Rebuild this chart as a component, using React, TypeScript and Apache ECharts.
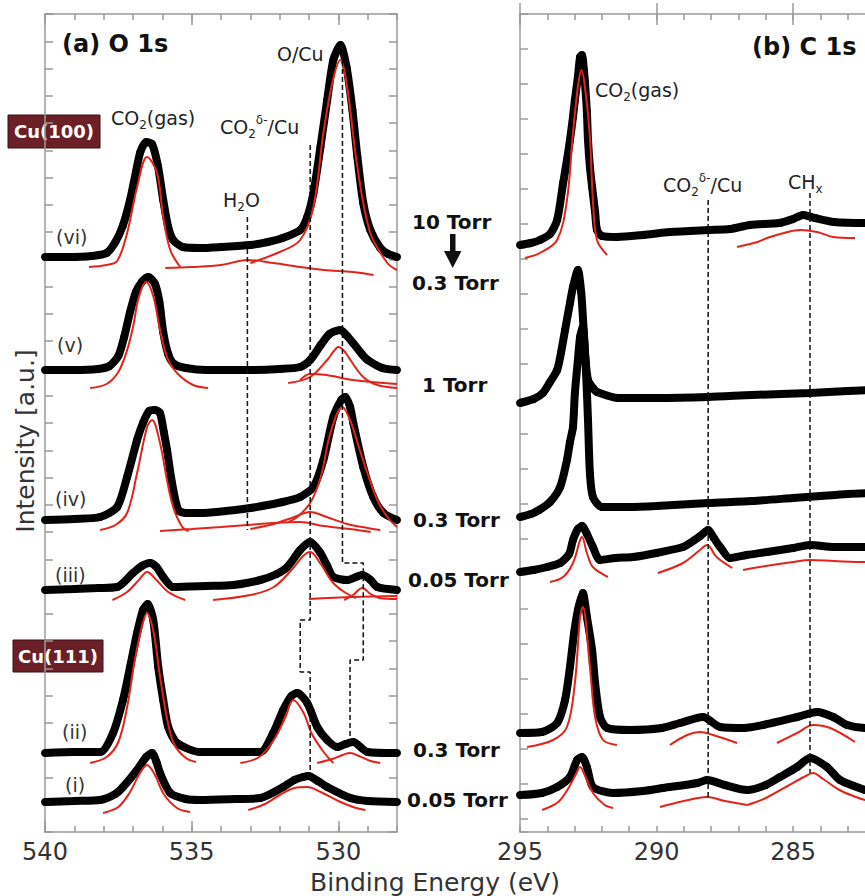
import React, { useEffect, useRef } from 'react';
import * as echarts from 'echarts';

type P = [number, number][];

// ---------- Panel (a) O 1s : x = binding energy (eV), y = offset intensity (a.u.) ----------
const o1sVi: P = [[540.0,575],[539.2,575],[538.4,576],[537.9,579],[537.6,590],[537.35,606],[537.1,632],[536.9,660],[536.75,680],[536.55,690],[536.35,688],[536.15,666],[535.97,632],[535.8,605],[535.63,592],[535.3,585],[534.7,584],[534.0,585],[533.0,587],[532.4,590],[531.9,594],[531.3,602],[531.06,615],[530.85,639],[530.61,685],[530.38,732],[530.17,772],[529.93,787],[529.72,765],[529.52,722],[529.35,675],[529.15,629],[528.91,602],[528.57,584],[528.3,578],[528.0,575]];
const o1sViFitCO2: P = [[538.5,565],[537.9,567],[537.54,571],[537.2,599],[536.86,645],[536.52,675],[536.18,659],[535.97,615],[535.73,582],[535.39,565]];
const o1sViFitH2O: P = [[535.9,564],[535.0,565],[534.0,567],[533.1,572],[532.2,569],[531.3,565],[530.5,562],[529.5,560],[528.8,557]];
const o1sViFitOCu: P = [[533.0,569],[532.0,580],[531.3,592],[530.85,625],[530.51,699],[530.2,750],[529.93,772],[529.7,745],[529.35,665],[528.91,599],[528.33,569],[528.0,562]];

const o1sV: P = [[540.0,462],[539.0,462],[538.2,463],[537.8,466],[537.5,476],[537.3,495],[537.1,520],[536.9,540],[536.7,550],[536.48,555],[536.25,548],[536.1,530],[535.97,500],[535.8,478],[535.6,468],[535.2,464],[534.5,462],[533.0,462],[532.0,463],[531.3,465],[530.96,472],[530.6,487],[530.3,498],[529.93,502],[529.7,496],[529.5,489],[529.2,478],[529.0,472],[528.5,464],[528.0,462]];
const o1sVFitCO2: P = [[538.46,444],[537.9,448],[537.5,460],[537.2,482],[537.0,505],[536.8,535],[536.55,550],[536.3,535],[536.1,505],[535.84,475],[535.5,459],[534.95,447],[534.44,444]];
const o1sVFitOCu: P = [[531.71,449],[530.96,455],[530.38,472],[530.15,481],[530.0,485],[529.8,481],[529.59,472],[529.15,455],[528.67,447],[528.0,444]];
const o1sVFitCO2d: P = [[531.3,452],[530.96,458],[530.4,457],[529.5,452],[528.0,448]];

const o1sIv: P = [[540.0,312],[539.0,313],[538.12,315],[537.54,325],[537.2,355],[536.86,392],[536.66,409],[536.45,421],[536.25,422],[536.08,419],[535.95,400],[535.84,382],[535.67,349],[535.46,322],[535.2,319],[534.71,319],[533.0,324],[531.9,330],[531.3,335],[530.85,345],[530.51,372],[530.17,415],[529.9,432],[529.76,435],[529.6,425],[529.49,409],[529.15,365],[528.81,335],[528.46,319],[528.0,312]];
const o1sIvFitCO2: P = [[538.12,302],[537.6,307],[537.2,319],[536.86,359],[536.52,405],[536.35,412],[536.08,389],[535.84,352],[535.63,325],[535.32,305],[535.1,301]];
const o1sIvFitH2O: P = [[536.08,301],[535.0,303],[534.0,305],[533.1,307],[532.2,309],[531.3,310],[530.5,306],[529.6,303],[528.9,300]];
const o1sIvFitCO2d: P = [[533.0,303],[532.2,308],[531.5,315],[530.96,320],[530.4,315],[529.7,308],[529.0,304],[528.57,302]];
const o1sIvFitOCu: P = [[531.7,310],[531.4,315],[530.96,329],[530.6,355],[530.27,399],[529.86,425],[529.6,412],[529.3,385],[529.01,359],[528.67,332],[528.33,315],[528.0,305]];

const o1sIii: P = [[540.0,242],[539.0,243],[538.2,244],[537.54,245],[537.0,259],[536.7,266],[536.42,269],[536.2,265],[535.97,255],[535.63,245],[534.5,246],[533.58,247],[532.66,252],[532.1,258],[531.74,265],[531.3,282],[530.96,290],[530.61,279],[530.38,266],[530.17,255],[529.69,252],[529.18,257],[528.9,252],[528.67,245],[528.0,242]];
const o1sIiiFitCO2: P = [[537.7,232],[537.2,240],[536.8,252],[536.52,260],[536.2,252],[535.8,240],[535.22,232]];
const o1sIiiFitCO2d: P = [[534.27,232],[533.0,237],[532.2,245],[531.6,262],[531.2,276],[530.96,280],[530.6,268],[530.2,250],[529.8,240],[529.4,234]];
const o1sIiiFitOCu: P = [[529.8,232],[529.5,237],[529.18,244],[528.9,238],[528.6,234],[528.0,233]];
const o1sIiiFitBase: P = [[531.0,233],[529.5,235],[528.0,236]];

const o1sIi: P = [[540.0,79],[539.0,80],[538.12,80],[537.68,99],[537.34,132],[537.1,165],[536.86,199],[536.66,222],[536.5,228],[536.31,212],[536.14,165],[535.97,132],[535.8,105],[535.5,89],[534.71,80],[533.5,80],[532.66,80],[532.22,99],[531.88,122],[531.6,136],[531.4,139],[531.06,129],[530.72,105],[530.38,92],[530.03,85],[529.75,88],[529.49,90],[529.01,80],[528.0,79]];
const o1sIiFitCO2: P = [[538.46,69],[537.9,75],[537.5,90],[537.2,125],[536.95,170],[536.7,205],[536.52,219],[536.3,200],[536.1,160],[535.85,115],[535.6,88],[535.2,74],[534.85,70]];
const o1sIiFitCO2d: P = [[533.34,69],[532.7,75],[532.2,92],[531.8,115],[531.54,132],[531.2,120],[530.9,98],[530.5,80],[530.17,69]];
const o1sIiFitOCu: P = [[530.72,69],[530.2,73],[529.85,77],[529.59,79],[529.3,76],[528.9,71],[528.57,69]];

const o1sI: P = [[540.0,30],[539.0,31],[538.12,32],[537.6,38],[537.34,45],[536.86,62],[536.55,75],[536.35,79],[536.2,70],[536.08,59],[535.73,39],[535.2,33],[534.71,32],[533.5,33],[532.66,34],[531.88,45],[531.5,52],[531.2,55],[531.02,56],[530.7,51],[530.38,45],[529.59,34],[529.0,31],[528.0,30]];
const o1sIFitCO2: P = [[538.02,19],[537.5,25],[537.1,40],[536.8,57],[536.52,67],[536.25,57],[535.95,38],[535.5,24],[535.05,20]];
const o1sIFitCO2d: P = [[533.07,22],[532.5,28],[532.0,37],[531.5,44],[531.06,45],[530.6,40],[530.0,31],[529.5,25],[529.08,22]];

const o1sLineH2O: P = [[533.1,615],[533.1,302]];
const o1sLineCO2d: P = [[530.96,687],[530.96,212],[531.3,212],[531.3,160],[530.96,160],[530.96,59]];
const o1sLineOCu: P = [[529.86,787],[529.86,269],[529.15,269],[529.15,172],[529.6,172],[529.6,85]];

// ---------- Panel (b) C 1s ----------
const c1s10: P = [[295.0,587],[294.6,589],[294.27,592],[293.9,598],[293.64,612],[293.42,649],[293.28,672],[293.17,692],[293.06,715],[292.99,732],[292.88,755],[292.8,775],[292.73,777],[292.66,762],[292.62,749],[292.55,720],[292.51,692],[292.44,665],[292.36,645],[292.25,620],[292.18,602],[292.0,596],[291.45,595],[290.5,597],[289.5,600],[288.11,602],[287.3,603],[286.58,607],[285.5,609],[285.0,613],[284.63,617],[284.2,614],[283.5,610],[282.36,609],[282.0,609]];
const c1s10FitCO2: P = [[294.82,574],[294.27,579],[293.64,592],[293.28,632],[293.06,699],[292.88,745],[292.75,762],[292.6,740],[292.44,695],[292.33,632],[292.18,592],[291.81,577]];
const c1s10FitCHx: P = [[287.05,585],[286.3,590],[285.95,594],[285.2,600],[284.74,602],[284.12,600],[283.53,595],[282.73,594]];

const c1s1: P = [[295.0,429],[294.5,433],[294.16,439],[293.9,450],[293.64,462],[293.5,479],[293.35,502],[293.17,529],[293.06,545],[292.88,562],[292.76,540],[292.69,512],[292.62,479],[292.51,452],[292.3,443],[292.18,440],[291.4,434],[290.0,434],[288.11,435],[286.5,437],[284.38,439],[283.0,441],[282.0,442]];

const c1s03: P = [[295.0,315],[294.6,318],[294.3,322],[293.9,330],[293.53,345],[293.28,372],[293.17,390],[293.06,405],[292.99,439],[292.88,472],[292.8,495],[292.7,505],[292.6,470],[292.51,412],[292.44,359],[292.33,335],[292.0,325],[291.0,325],[290.0,326],[288.11,329],[286.5,331],[285.0,334],[284.0,336],[283.0,338],[282.0,339]];

const c1s005: P = [[295.0,260],[294.5,262],[294.0,265],[293.53,269],[293.2,278],[293.06,292],[292.88,303],[292.73,306],[292.55,298],[292.33,285],[292.07,272],[291.5,274],[290.86,275],[290.0,279],[289.03,285],[288.77,289],[288.4,296],[288.11,302],[287.9,294],[287.67,285],[287.31,274],[286.7,277],[285.95,280],[285.0,284],[284.38,287],[283.5,285],[282.36,285],[282.0,285]];
const c1s005FitCO2: P = [[293.9,250],[293.42,255],[293.06,269],[292.8,292],[292.73,295],[292.55,279],[292.33,265],[291.78,255]];
const c1s005FitCO2d: P = [[289.95,259],[289.03,269],[288.41,282],[288.15,287],[287.8,275],[287.23,264]];
const c1s005FitCHx: P = [[286.83,262],[286.0,266],[285.0,270],[284.38,272],[283.5,271],[282.36,270],[282.0,270]];

const c1s111a: P = [[295.0,99],[294.2,100],[293.64,109],[293.35,132],[293.17,165],[293.02,199],[292.88,222],[292.7,239],[292.55,215],[292.36,182],[292.25,149],[292.07,115],[291.81,104],[290.97,102],[289.8,104],[289.14,109],[288.3,115],[287.67,105],[286.8,104],[286.1,107],[284.85,115],[284.12,120],[283.53,115],[283.02,107],[282.36,104],[282.0,104]];
const c1s111aFitCO2: P = [[294.74,85],[293.79,92],[293.28,105],[292.99,149],[292.8,215],[292.7,225],[292.44,165],[292.25,115],[291.96,92],[291.45,87]];
const c1s111aFitCO2d: P = [[289.51,87],[288.88,97],[288.41,100],[287.93,97],[287.05,89]];
const c1s111aFitCHx: P = [[285.59,89],[284.85,99],[284.27,107],[283.64,104],[282.73,90]];

const c1s111b: P = [[295.0,37],[294.2,39],[293.64,45],[293.17,55],[292.91,72],[292.73,75],[292.55,65],[292.33,45],[291.59,39],[290.5,41],[289.76,44],[288.5,49],[288.15,52],[287.5,47],[286.68,42],[286.0,47],[285.48,55],[284.85,65],[284.38,74],[283.76,65],[283.28,52],[282.36,42],[282.0,40]];
const c1s111bFitCO2: P = [[294.19,22],[293.6,30],[293.2,45],[292.95,58],[292.8,65],[292.6,55],[292.3,38],[291.9,27],[291.59,24]];
const c1s111bFitCO2d: P = [[289.87,25],[289.0,31],[288.15,35],[287.5,31],[286.68,27]];
const c1s111bFitCHx: P = [[286.68,27],[286.0,34],[285.2,46],[284.6,55],[284.27,59],[283.9,53],[283.3,42],[282.7,35],[282.36,32],[282.0,30]];

const c1sLineCO2d: P = [[288.11,632],[288.11,34]];
const c1sLineCHx: P = [[284.38,639],[284.38,59]];

// ticks / ranges
const o1sRange = [528, 540];
const c1sRange = [282, 295];
const o1sMajor = [530, 535, 540];
const c1sMajor = [285, 290, 295];
const yMax = 818;

const FONT = '"DejaVu Sans", sans-serif';
const AX = '#9a9a9a';
const RED = '#e3231b';

export default function App() {
  const ref = useRef<HTMLDivElement>(null);
  useEffect(() => {
    if (!ref.current) return;
    const chart = echarts.init(ref.current, undefined, { renderer: 'svg' });

    const dots = (data: P, panel: number) => ({
      type: 'line', data, xAxisIndex: panel === 0 ? 0 : 4, yAxisIndex: panel === 0 ? 0 : 2,
      smooth: 0.25, symbol: 'circle', symbolSize: 8, showSymbol: true,
      lineStyle: { color: '#000', width: 8 }, itemStyle: { color: '#000' }, z: 2, silent: true,
    });
    const fit = (data: P, panel: number) => ({
      type: 'line', data, xAxisIndex: panel === 0 ? 0 : 4, yAxisIndex: panel === 0 ? 0 : 2,
      smooth: 0.35, symbol: 'none', lineStyle: { color: RED, width: 2 }, z: 3, silent: true,
    });
    const dash = (data: P, panel: number) => ({
      type: 'line', data, xAxisIndex: panel === 0 ? 0 : 4, yAxisIndex: panel === 0 ? 0 : 2,
      symbol: 'none', lineStyle: { color: '#111', width: 1.5, type: [5, 3] }, z: 4, silent: true,
    });

    const xa = (grid: number, pos: string, range: number[], major: number[] | null, labels: boolean) => ({
      type: 'value', gridIndex: grid, position: pos, min: range[0], max: range[1], inverse: true, interval: 1,
      axisLine: { show: !major, lineStyle: { color: AX, width: 1.5 } },
      axisTick: major
        ? { show: true, inside: true, length: 11, customValues: major, lineStyle: { color: AX, width: 1.5 } }
        : { show: true, inside: true, length: 6, lineStyle: { color: AX, width: 1.5 } },
      axisLabel: labels
        ? { show: true, formatter: (v: number) => (Math.round(v) % 5 === 0 ? String(Math.round(v)) : ''), fontSize: 24, fontFamily: FONT, color: '#333', margin: 8 }
        : { show: false },
      splitLine: { show: false },
    });

    const tickY = { show: true, inside: true, length: 8, lineStyle: { color: AX, width: 1.5 } };

    const txt = (text: string, x: number, y: number, size: number, extra: any = {}) => ({
      type: 'text', x, y, z: 20,
      style: { text, fontSize: size, fontFamily: FONT, fill: '#222', align: 'left', verticalAlign: 'middle', textAlign: 'left', textVerticalAlign: 'middle', ...extra },
    });
    const chem = (text: string, x: number, y: number) => ({
      type: 'text', x, y, z: 20,
      style: {
        text, fontSize: 19, fontFamily: FONT, fill: '#222', align: 'left', verticalAlign: 'middle', textAlign: 'left', textVerticalAlign: 'middle',
        rich: {
          n: { fontSize: 19, fontFamily: FONT, fill: '#222', color: '#222', lineHeight: 26 },
          s: { fontSize: 12, fontFamily: FONT, fill: '#222', color: '#222', lineHeight: 12, verticalAlign: 'bottom' },
          u: { fontSize: 12, fontFamily: FONT, fill: '#222', color: '#222', lineHeight: 12, verticalAlign: 'top' },
        },
      },
    });
    const box = (label: string, x: number, y: number, w: number, h: number) => ({
      type: 'group', z: 20,
      children: [
        { type: 'rect', shape: { x, y, width: w, height: h }, style: { fill: '#6b1f26', stroke: '#3a0f12', lineWidth: 1 } },
        { type: 'text', x: x + w / 2, y: y + h / 2, style: { text: label, fontSize: 18, fontWeight: 'bold', fontFamily: FONT, fill: '#fff', align: 'center', verticalAlign: 'middle', textAlign: 'center', textVerticalAlign: 'middle' } },
      ],
    });
    const bold = { fontWeight: 'bold', fill: '#111' };

    const option: any = {
      animation: false,
      backgroundColor: '#fff',
      grid: [
        { left: 45, top: 14, width: 352, height: 818, containLabel: false, outerBoundsMode: 'none' },
        { left: 520, top: 14, width: 355, height: 818, containLabel: false, outerBoundsMode: 'none' },
      ],
      xAxis: [
        xa(0, 'bottom', o1sRange, null, true),
        xa(0, 'bottom', o1sRange, o1sMajor, false),
        xa(0, 'top', o1sRange, null, false),
        xa(0, 'top', o1sRange, o1sMajor, false),
        xa(1, 'bottom', c1sRange, null, true),
        xa(1, 'bottom', c1sRange, c1sMajor, false),
        xa(1, 'top', c1sRange, null, false),
        xa(1, 'top', c1sRange, c1sMajor, false),
      ],
      yAxis: [
        { type: 'value', gridIndex: 0, position: 'left', min: 0, max: yMax, interval: yMax / 30, axisLine: { show: true, lineStyle: { color: AX, width: 1.5 } }, axisTick: tickY, axisLabel: { show: false }, splitLine: { show: false } },
        { type: 'value', gridIndex: 0, position: 'right', min: 0, max: yMax, interval: yMax / 30, axisLine: { show: true, lineStyle: { color: AX, width: 1.5 } }, axisTick: tickY, axisLabel: { show: false }, splitLine: { show: false } },
        { type: 'value', gridIndex: 1, position: 'left', min: 0, max: yMax, axisLine: { show: true, lineStyle: { color: AX, width: 1.5 } }, axisTick: { show: false }, axisLabel: { show: false }, splitLine: { show: false } },
        { type: 'value', gridIndex: 1, position: 'left', min: 0, max: yMax, inverse: true, interval: 35, axisLine: { show: false }, axisTick: tickY, axisLabel: { show: false }, splitLine: { show: false } },
      ],
      series: [
        dots(o1sVi, 0), dots(o1sV, 0), dots(o1sIv, 0), dots(o1sIii, 0), dots(o1sIi, 0), dots(o1sI, 0),
        fit(o1sViFitCO2, 0), fit(o1sViFitH2O, 0), fit(o1sViFitOCu, 0),
        fit(o1sVFitCO2, 0), fit(o1sVFitOCu, 0), fit(o1sVFitCO2d, 0),
        fit(o1sIvFitCO2, 0), fit(o1sIvFitH2O, 0), fit(o1sIvFitCO2d, 0), fit(o1sIvFitOCu, 0),
        fit(o1sIiiFitCO2, 0), fit(o1sIiiFitCO2d, 0), fit(o1sIiiFitOCu, 0), fit(o1sIiiFitBase, 0),
        fit(o1sIiFitCO2, 0), fit(o1sIiFitCO2d, 0), fit(o1sIiFitOCu, 0),
        fit(o1sIFitCO2, 0), fit(o1sIFitCO2d, 0),
        dash(o1sLineH2O, 0), dash(o1sLineCO2d, 0), dash(o1sLineOCu, 0),
        dots(c1s10, 1), dots(c1s1, 1), dots(c1s03, 1), dots(c1s005, 1), dots(c1s111a, 1), dots(c1s111b, 1),
        fit(c1s10FitCO2, 1), fit(c1s10FitCHx, 1),
        fit(c1s005FitCO2, 1), fit(c1s005FitCO2d, 1), fit(c1s005FitCHx, 1),
        fit(c1s111aFitCO2, 1), fit(c1s111aFitCO2d, 1), fit(c1s111aFitCHx, 1),
        fit(c1s111bFitCO2, 1), fit(c1s111bFitCO2d, 1), fit(c1s111bFitCHx, 1),
        dash(c1sLineCO2d, 1), dash(c1sLineCHx, 1),
      ],
      graphic: [
        txt('(a) O 1s', 62, 44, 24, bold),
        txt('O/Cu', 277, 54, 19),
        chem('{n|CO}{s|2}{n|(gas)}', 111, 118),
        chem('{n|CO}{s|2}{u|δ-}{n|/Cu}', 220, 127),
        chem('{n|H}{s|2}{n|O}', 223, 200),
        box('Cu(100)', 8, 115, 92, 33),
        box('Cu(111)', 13, 640, 90, 32),
        txt('(vi)', 56, 237, 19, { fill: '#333' }),
        txt('(v)', 57, 345, 19, { fill: '#333' }),
        txt('(iv)', 55, 499, 19, { fill: '#333' }),
        txt('(iii)', 55, 575, 19, { fill: '#333' }),
        txt('(ii)', 62, 732, 19, { fill: '#333' }),
        txt('(i)', 65, 785, 19, { fill: '#333' }),
        txt('10 Torr', 412, 222, 20, bold),
        { type: 'rect', z: 20, shape: { x: 450, y: 234, width: 5.5, height: 19 }, style: { fill: '#111' } },
        { type: 'polygon', z: 20, shape: { points: [[444, 251], [461.5, 251], [452.7, 268]] }, style: { fill: '#111' } },
        txt('0.3 Torr', 412, 283, 20, bold),
        txt('1 Torr', 422, 385, 20, bold),
        txt('0.3 Torr', 413, 520, 20, bold),
        txt('0.05 Torr', 408, 580, 20, bold),
        txt('0.3 Torr', 413, 750, 20, bold),
        txt('0.05 Torr', 407, 800, 20, bold),
        txt('(b) C 1s', 752, 47, 24, bold),
        chem('{n|CO}{s|2}{n|(gas)}', 595, 90),
        chem('{n|CO}{s|2}{u|δ-}{n|/Cu}', 663, 185),
        chem('{n|CH}{s|x}', 788, 182),
        txt('Binding Energy (eV)', 435, 882, 25, { fill: '#333', align: 'center', textAlign: 'center' }),
        { type: 'text', x: 25, y: 441, rotation: Math.PI / 2, z: 20, style: { text: 'Intensity [a.u.]', fontSize: 25, fontFamily: FONT, fill: '#333', align: 'center', verticalAlign: 'middle', textAlign: 'center', textVerticalAlign: 'middle' } },
      ],
    };
    chart.setOption(option);
    return () => chart.dispose();
  }, []);
  return <div ref={ref} style={{ position: 'absolute', left: 0, top: 0, width: 865, height: 896, background: '#fff' }} />;
}
